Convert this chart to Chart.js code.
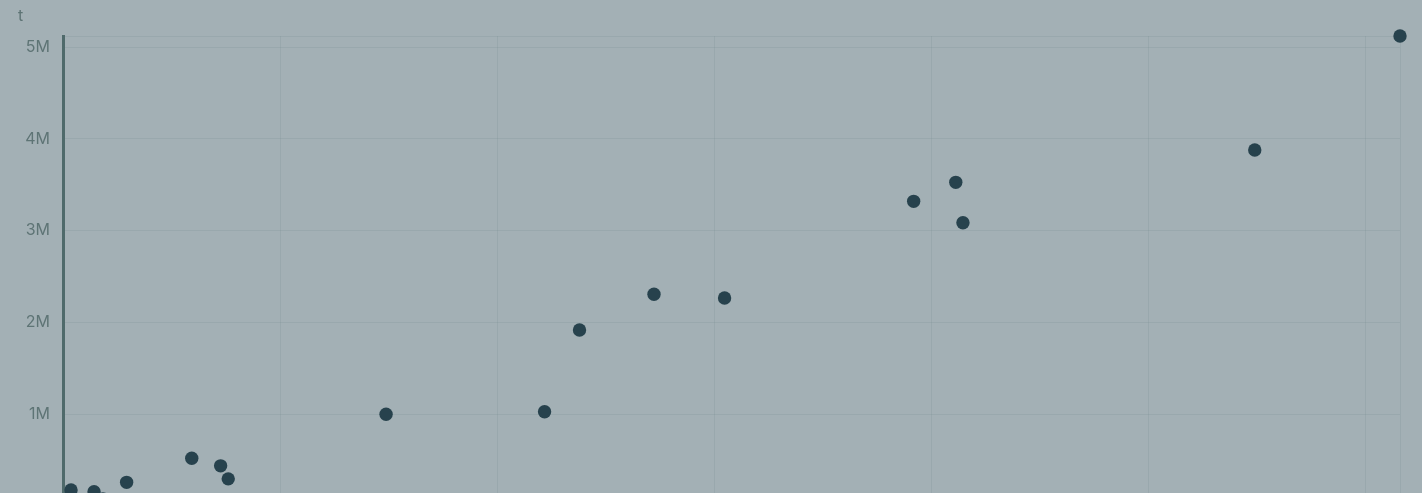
<!DOCTYPE html>
<html>
<head>
<meta charset="utf-8">
<script src="https://cdn.jsdelivr.net/npm/chart.js@4"></script>
<style>
  html, body { margin: 0; padding: 0; overflow: hidden; background: #a3b0b5; }
  #wrap { width: 1422px; height: 540px; }
</style>
</head>
<body>
<div id="wrap"><canvas id="scatterChart" width="1422" height="540"></canvas></div>
<script>
// x ticks and y ticks (the x axis itself sits below the visible window)
const xTicks = [0, 10, 20, 30, 40, 50, 60];
const yTicks = [0, 1000000, 2000000, 3000000, 4000000, 5000000];

// points
const xValues = [0.37, 1.43, 1.84, 2.93, 5.93, 7.26, 7.61, 14.88, 22.18, 23.79, 27.22, 30.47, 39.18, 41.12, 41.45, 54.89, 61.58];
const yValues = [172000, 152000, 74000, 255000, 518000, 435000, 293000, 997000, 1025000, 1916000, 2305000, 2264000, 3318000, 3525000, 3085000, 3877000, 5120000];

const xMax = Math.max(...xValues);
const yMax = Math.max(...yValues);

const textColor = '#5e7475';
const gridColor = 'rgba(100,125,130,0.15)';
const axisColor = '#4f6a6b';
const pointColor = '#27424d';

const points = xValues.map((x, i) => ({ x: x, y: yValues[i] }));

new Chart(document.getElementById('scatterChart'), {
    type: 'scatter',
    data: {
        datasets: [{
            data: points,
            backgroundColor: pointColor,
            borderWidth: 0,
            pointRadius: 6.7,
            pointHoverRadius: 6.7,
            clip: false
        }]
    },
    options: {
        responsive: false,
        animation: false,
        devicePixelRatio: 1,
        layout: { padding: { left: 18, right: 22, top: 0, bottom: 0 } },
        scales: {
            x: {
                type: 'linear',
                min: 0,
                max: xMax,
                afterBuildTicks: scale => {
                    scale.ticks = xTicks.map(v => ({ value: v })).concat([{ value: xMax }]);
                },
                afterFit: scale => { scale.height = 34.25; },
                ticks: {
                    color: textColor,
                    font: { family: 'Inter', size: 16 },
                    callback: v => (v === xMax ? '' : v)
                },
                grid: { color: gridColor, drawTicks: false },
                border: { display: false }
            },
            y: {
                type: 'linear',
                min: 0,
                max: yMax,
                afterBuildTicks: scale => {
                    scale.ticks = yTicks.map(v => ({ value: v })).concat([{ value: yMax }]);
                },
                afterFit: scale => { scale.width = 45; },
                ticks: {
                    color: textColor,
                    padding: 13,
                    font: { family: 'Inter', size: 16 },
                    callback: v => (v === yMax ? '' : (v === 0 ? '0' : (v / 1000000) + 'M'))
                },
                grid: { color: gridColor, drawTicks: false },
                border: { color: axisColor, width: 3 }
            }
        },
        plugins: {
            legend: { display: false },
            tooltip: { enabled: false },
            title: {
                display: true,
                text: 't',
                align: 'start',
                color: textColor,
                font: { family: 'Inter', size: 16, weight: 'normal' },
                padding: { top: 7, bottom: 9.8 }
            }
        }
    }
});
</script>
</body>
</html>
